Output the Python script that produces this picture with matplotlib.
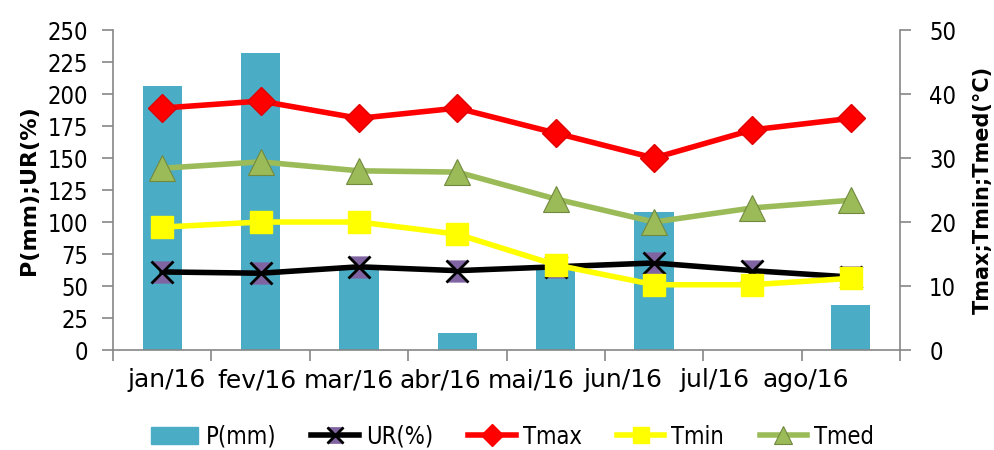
import numpy as np
import matplotlib
matplotlib.use("Agg")
from matplotlib import pyplot as plt
from matplotlib.path import Path
from matplotlib.lines import Line2D
from matplotlib.patches import Patch

# data
months = ["jan/16", "fev/16", "mar/16", "abr/16", "mai/16", "jun/16", "jul/16", "ago/16"]
chuva = [206, 232, 64, 13, 64, 108, 0, 35]          # P(mm)
umid = [61, 60, 65, 62, 65, 68, 62, 57]             # UR(%)
tmax = [37.8, 38.9, 36.2, 37.8, 33.9, 30.0, 34.4, 36.2]
tmin = [19.2, 20.0, 20.0, 18.1, 13.3, 10.2, 10.2, 11.2]
tmed = [28.4, 29.4, 28.0, 27.8, 23.6, 20.0, 22.2, 23.4]

plt.rcParams['font.family'] = ['DejaVu Sans']
plt.rcParams['font.stretch'] = 'condensed'

x = np.arange(len(months))
grey = '#868686'

# hourglass marker for UR (drawn under a black x)
hour = Path([(-1, 1), (1, 1), (0, 0), (1, -1), (-1, -1), (0, 0), (-1, 1)],
            [Path.MOVETO, Path.LINETO, Path.LINETO, Path.LINETO, Path.LINETO, Path.LINETO, Path.CLOSEPOLY])

fig = plt.figure(figsize=(9.95, 4.5), dpi=100)
ax = fig.add_axes([0.1136, 0.2222, 0.7909, 0.7111])
ax2 = ax.twinx()

ax.bar(x, chuva, width=0.4, color='#4BACC6', zorder=1)
ax.plot(x, umid, color='black', lw=4, zorder=3)
ax.plot(x, umid, ls='none', marker=hour, ms=15, mfc='#8064A2', mec='#8064A2', zorder=4)
ax.plot(x, umid, ls='none', marker='x', ms=16, mew=2, color='black', zorder=5)

ax2.plot(x, tmax, color='#FF0000', lw=4, marker='D', ms=14, mec='#E00000')
ax2.plot(x, tmin, color='#FFFF00', lw=4, marker='s', ms=16, mec='#FFFF00')
ax2.plot(x, tmed, color='#9BBB59', lw=4, marker='^', ms=19, mec='#71893F', mew=0.8)

ax.set_xlim(-0.5, len(months) - 0.5)
ax.set_ylim(0, 250)
ax2.set_ylim(0, 50)
ax.set_yticks(np.arange(0, 251, 25))
ax2.set_yticks(np.arange(0, 51, 10))
# category boundaries carry the tick marks, labels sit on minor ticks
ax.set_xticks(np.arange(-0.5, len(months)), minor=False)
ax.set_xticklabels([])
ax.set_xticks(np.linspace(0.04, 6.54, len(months)), minor=True)
ax.set_xticklabels(months, minor=True, fontsize=18, fontstretch='normal')
ax.tick_params(axis='x', which='minor', length=0, pad=13)
ax.tick_params(axis='x', which='major', length=8, color=grey, width=1.2)
ax.tick_params(axis='y', labelsize=17, length=8, color=grey, width=1.2, pad=10)
ax2.tick_params(axis='y', labelsize=17, length=8, color=grey, width=1.2, pad=13)

for a in (ax, ax2):
    a.spines['top'].set_visible(False)
    for s in ('left', 'right', 'bottom'):
        a.spines[s].set_color(grey)
        a.spines[s].set_linewidth(1.2)
ax.spines['right'].set_visible(False)
ax2.spines['left'].set_visible(False)
ax2.spines['bottom'].set_visible(False)

ax.set_ylabel('P(mm);UR(%)', fontsize=16, fontweight='bold', fontstretch='normal', labelpad=6)
ax2.set_ylabel('Tmax;Tmin;Tmed(°C)', fontsize=15, fontweight='bold', fontstretch='normal', labelpad=12)

# legend
handles = [
    Patch(color='#4BACC6'),
    (Line2D([], [], color='black', lw=4),
     Line2D([], [], ls='none', marker=hour, ms=11, mfc='#8064A2', mec='#8064A2'),
     Line2D([], [], ls='none', marker='x', ms=12, mew=2, color='black')),
    Line2D([], [], color='#FF0000', lw=4, marker='D', ms=11),
    Line2D([], [], color='#FFFF00', lw=4, marker='s', ms=12),
    Line2D([], [], color='#9BBB59', lw=4, marker='^', ms=13, mec='#71893F', mew=0.8),
]
fig.legend(handles, ['P(mm)', 'UR(%)', 'Tmax', 'Tmin', 'Tmed'], ncol=5, loc='center',
           bbox_to_anchor=(0.515, 0.03), frameon=False, fontsize=17,
           handlelength=2.0, columnspacing=1.5, handletextpad=0.3)

fig.savefig('out.png', dpi=100)
